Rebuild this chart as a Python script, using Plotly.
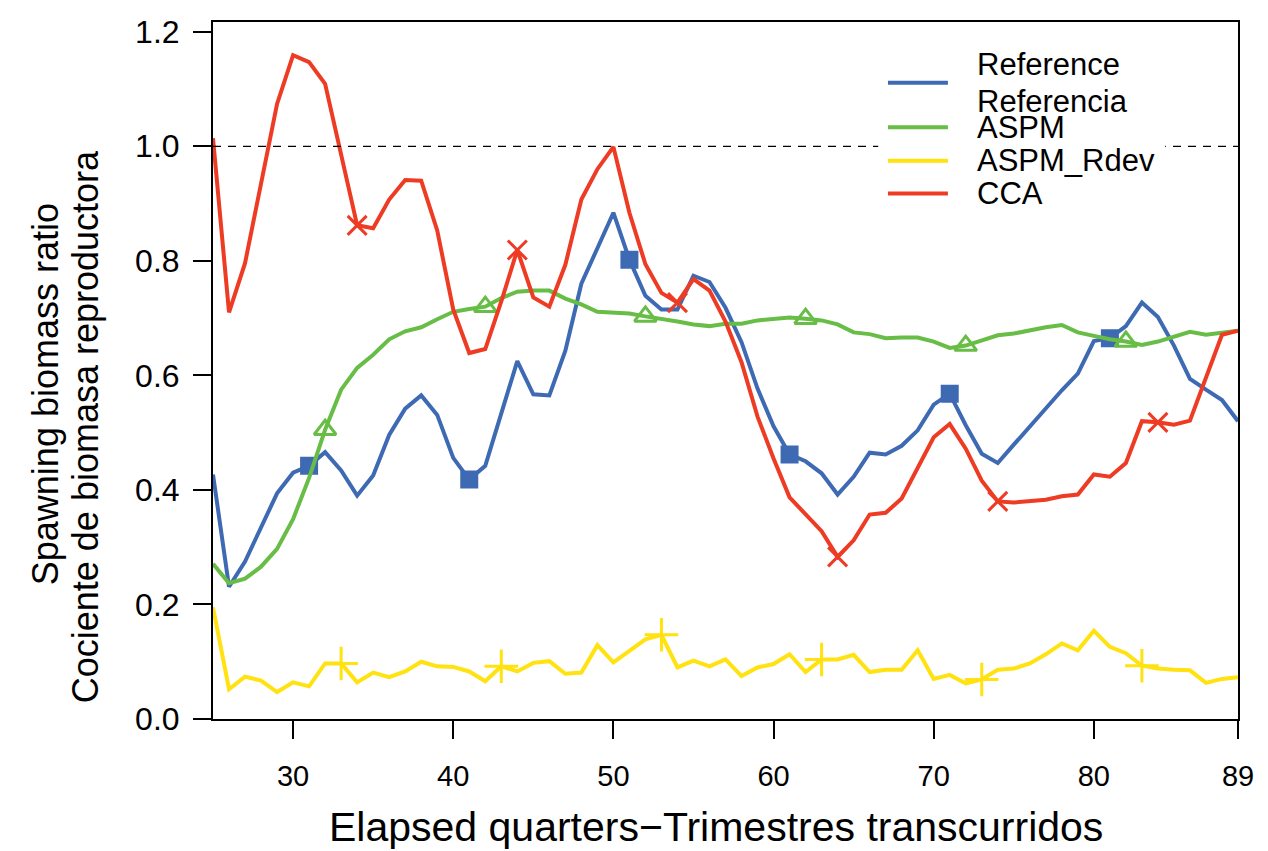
import plotly.graph_objects as go

# ---------------- data ----------------
quarters = list(range(25, 90))

reference = [0.427, 0.231, 0.275, 0.335, 0.394, 0.430, 0.442, 0.466, 0.434, 0.390,
             0.425, 0.496, 0.542, 0.565, 0.531, 0.456, 0.418, 0.442, 0.531, 0.625,
             0.567, 0.565, 0.643, 0.760, 0.822, 0.884, 0.802, 0.739, 0.715, 0.715,
             0.774, 0.763, 0.718, 0.658, 0.577, 0.511, 0.462, 0.450, 0.429, 0.392,
             0.423, 0.465, 0.462, 0.477, 0.504, 0.549, 0.568, 0.513, 0.463, 0.447,
             0.479, 0.511, 0.542, 0.574, 0.603, 0.660, 0.665, 0.686, 0.727, 0.702,
             0.652, 0.594, 0.575, 0.557, 0.520]

aspm = [0.271, 0.237, 0.245, 0.266, 0.297, 0.349, 0.421, 0.505, 0.575, 0.613,
        0.636, 0.663, 0.677, 0.684, 0.698, 0.711, 0.716, 0.720, 0.735, 0.746,
        0.748, 0.748, 0.734, 0.724, 0.711, 0.709, 0.708, 0.703, 0.699, 0.694,
        0.689, 0.686, 0.690, 0.690, 0.696, 0.699, 0.701, 0.699, 0.696, 0.689,
        0.675, 0.672, 0.665, 0.666, 0.666, 0.659, 0.648, 0.652, 0.661, 0.670,
        0.673, 0.679, 0.684, 0.688, 0.675, 0.669, 0.663, 0.659, 0.653, 0.659,
        0.667, 0.676, 0.671, 0.675, 0.678]

aspm_rdev = [0.195, 0.052, 0.074, 0.067, 0.047, 0.064, 0.057, 0.097, 0.097, 0.064,
             0.081, 0.073, 0.083, 0.100, 0.092, 0.091, 0.083, 0.066, 0.092, 0.083,
             0.098, 0.101, 0.079, 0.081, 0.129, 0.099, 0.119, 0.139, 0.147, 0.090,
             0.102, 0.092, 0.104, 0.075, 0.090, 0.096, 0.113, 0.082, 0.104, 0.104,
             0.112, 0.082, 0.086, 0.086, 0.120, 0.070, 0.077, 0.062, 0.069, 0.086,
             0.088, 0.097, 0.113, 0.132, 0.120, 0.154, 0.126, 0.115, 0.093, 0.088,
             0.086, 0.085, 0.063, 0.070, 0.073]

cca = [1.014, 0.710, 0.796, 0.936, 1.074, 1.159, 1.147, 1.109, 0.983, 0.862,
       0.857, 0.907, 0.941, 0.940, 0.853, 0.715, 0.639, 0.646, 0.729, 0.819,
       0.736, 0.720, 0.793, 0.907, 0.960, 0.999, 0.884, 0.794, 0.744, 0.727,
       0.768, 0.748, 0.694, 0.623, 0.528, 0.455, 0.387, 0.357, 0.328, 0.283,
       0.312, 0.357, 0.360, 0.385, 0.440, 0.492, 0.515, 0.472, 0.416, 0.380,
       0.378, 0.381, 0.383, 0.389, 0.392, 0.427, 0.423, 0.447, 0.520, 0.518,
       0.514, 0.521, 0.596, 0.671, 0.678]

# quarters where each series carries a marker symbol
ref_marks = [31, 41, 51, 61, 71, 81]
aspm_marks = [32, 42, 52, 62, 72, 82]
rdev_marks = [33, 43, 53, 63, 73, 83]
cca_marks = [34, 44, 54, 64, 74, 84]

series_names = ["Reference\nReferencia", "ASPM", "ASPM_Rdev", "CCA"]
x_tick_vals = [30, 40, 50, 60, 70, 80, 89]
y_tick_vals = [0.0, 0.2, 0.4, 0.6, 0.8, 1.0, 1.2]
x_title = "Elapsed quarters\u2212Trimestres transcurridos"
y_title_lines = ["Spawning biomass ratio", "Cociente de biomasa reproductora"]

# ---------------- styles ----------------
colors = ["#3E6AB3", "#67BD45", "#FFE20F", "#EE3B24"]
symbols = ["square", "triangle-up-open", "cross-thin-open", "x-thin-open"]
msizes = [15, 19, 24, 19]
FONT = "Liberation Sans, Arial, Helvetica, sans-serif"

fig = go.Figure()
all_series = [reference, aspm, aspm_rdev, cca]
all_marks = [ref_marks, aspm_marks, rdev_marks, cca_marks]

for vals, marks, col, sym, ms, name in zip(all_series, all_marks, colors, symbols, msizes, series_names):
    fig.add_trace(go.Scatter(x=quarters, y=vals, mode="lines",
                             line=dict(color=col, width=4), name=name.replace("\n", " / "),
                             showlegend=False))
    lookup = dict(zip(quarters, vals))
    fig.add_trace(go.Scatter(x=marks, y=[lookup[q] for q in marks], mode="markers",
                             marker=dict(symbol=sym, size=ms, color=col,
                                         line=dict(color=col, width=3)),
                             showlegend=False, hoverinfo="skip"))

# reference line at 1.0
fig.add_shape(type="line", xref="x", yref="y", x0=quarters[0], x1=quarters[-1], y0=1.0, y1=1.0,
              line=dict(color="black", width=1.3, dash="8px,7px"), layer="above")

# legend (drawn manually to match the line-sample length)
fig.add_shape(type="rect", xref="paper", yref="paper", x0=0.649, x1=0.929, y0=0.725, y1=0.972,
              fillcolor="white", line=dict(width=0), layer="above")
leg_y = [0.913, 0.849, 0.801, 0.754]
line_gap = 0.0265
for col, name, yy in zip(colors, series_names, leg_y):
    fig.add_shape(type="line", xref="paper", yref="paper", x0=0.6585, x1=0.717, y0=yy, y1=yy,
                  line=dict(color=col, width=4), layer="above")
    parts = name.split("\n")
    n = len(parts)
    for k, part in enumerate(parts):
        off = line_gap * ((n - 1) - 2 * k) if n > 1 else 0
        fig.add_annotation(xref="paper", yref="paper", x=0.743, y=yy + off, text=part,
                           showarrow=False, xanchor="left", yanchor="middle", align="left",
                           font=dict(family=FONT, size=31, color="black"))

# axis titles
fig.add_annotation(xref="paper", yref="paper", x=0.491, y=-0.1546, text=x_title,
                   showarrow=False, xanchor="center", yanchor="middle",
                   font=dict(family=FONT, size=41, color="black"))
for txt, xx, yy in zip(y_title_lines, [-0.1639, -0.1249], [0.466, 0.420]):
    fig.add_annotation(xref="paper", yref="paper", x=xx, y=yy, text=txt,
                       showarrow=False, textangle=-90, xanchor="center", yanchor="middle",
                       font=dict(family=FONT, size=36, color="black"))

fig.update_xaxes(range=[25, 89], tickvals=x_tick_vals, ticktext=[str(v) for v in x_tick_vals],
                 showgrid=False, zeroline=False, showline=True, mirror=True,
                 linecolor="black", linewidth=2, ticks="outside", ticklen=18, tickwidth=2,
                 tickcolor="black", ticklabelstandoff=12,
                 tickfont=dict(family=FONT, size=29, color="black"))
fig.update_yaxes(range=[0, 1.217], tickvals=y_tick_vals, ticktext=[f"{v:.1f}" for v in y_tick_vals],
                 showgrid=False, zeroline=False, showline=True, mirror=True,
                 linecolor="black", linewidth=2, ticks="outside", ticklen=18, tickwidth=2,
                 tickcolor="black", ticklabelstandoff=7,
                 tickfont=dict(family=FONT, size=32, color="black"))

# page body has an 8px margin, so the figure is sized to fit the 1268x851 window
fig.update_layout(width=1260, height=843, paper_bgcolor="white", plot_bgcolor="white",
                  margin=dict(l=205, r=30, t=6, b=132), showlegend=False,
                  font=dict(family=FONT, color="black"))

fig.write_html("out.html")
